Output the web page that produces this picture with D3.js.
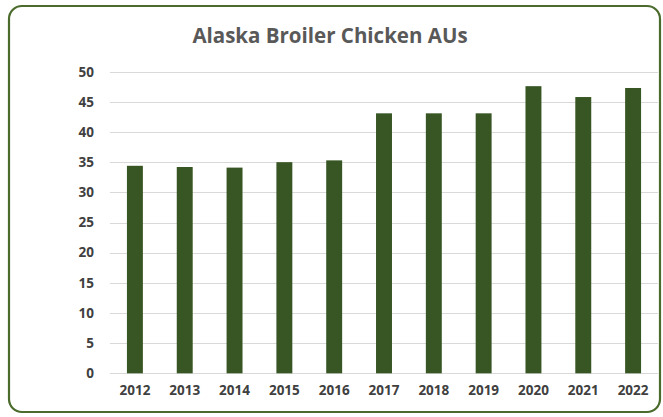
<!DOCTYPE html>
<html>
<head>
<meta charset="utf-8">
<script src="https://cdn.jsdelivr.net/npm/d3@7"></script>
<style>
  body { margin: 0; background: #fff; }
  text { font-family: "Open Sans", "Noto Sans", sans-serif; }
</style>
</head>
<body>
<div id="chart"></div>
<script>
const years = ["2012", "2013", "2014", "2015", "2016", "2017", "2018", "2019", "2020", "2021", "2022"];
const aus = [34.4, 34.2, 34.1, 35.0, 35.3, 43.1, 43.1, 43.1, 47.6, 45.8, 47.3];
const yTicks = [0, 5, 10, 15, 20, 25, 30, 35, 40, 45, 50];

// svg dimensions
const w = 663;
const h = 417;

const svg = d3
  .select("#chart")
  .append("svg")
  .attr("width", w)
  .attr("height", h);

// outer frame
svg
  .append("rect")
  .attr("x", 9)
  .attr("y", 6)
  .attr("width", 651)
  .attr("height", 406)
  .attr("rx", 13)
  .attr("fill", "#fff")
  .attr("stroke", "#4a6b2c")
  .attr("stroke-width", 2.2);

// scales
const xScale = d3
  .scaleBand()
  .domain(years)
  .range([110, 658])
  .paddingInner(0.68)
  .paddingOuter(0.34);

const yScale = d3.scaleLinear().domain([0, 50]).range([373.3, 71.7]);

// gridlines
svg
  .append("g")
  .selectAll("line")
  .data(yTicks)
  .enter()
  .append("line")
  .attr("x1", 110)
  .attr("x2", 658)
  .attr("y1", (d) => Math.round(yScale(d)) + 0.5)
  .attr("y2", (d) => Math.round(yScale(d)) + 0.5)
  .attr("stroke", "#d9d9d9")
  .attr("stroke-width", 1);

// bars
svg
  .append("g")
  .selectAll("rect")
  .data(aus)
  .enter()
  .append("rect")
  .attr("x", (d, i) => xScale(years[i]))
  .attr("y", (d) => yScale(d))
  .attr("width", xScale.bandwidth())
  .attr("height", (d) => yScale(0) - yScale(d))
  .attr("fill", "#375623");

// axes
const yAxis = d3.axisLeft(yScale).tickValues(yTicks).tickSize(0).tickPadding(16);
const xAxis = d3.axisBottom(xScale).tickSize(0).tickPadding(12);

const gy = svg.append("g").attr("transform", "translate(110,0)").call(yAxis);
const gx = svg.append("g").attr("transform", `translate(0,${yScale(0)})`).call(xAxis);

[gx, gy].forEach((g) => {
  g.select(".domain").remove();
  g.selectAll("text")
    .attr("fill", "#404040")
    .style("font-size", "13.5px")
    .style("font-weight", "bold")
    .style("font-family", '"Open Sans", sans-serif');
});

// title
svg
  .append("text")
  .attr("x", 330)
  .attr("y", 43)
  .attr("text-anchor", "middle")
  .attr("fill", "#595959")
  .style("font-size", "20.5px")
  .style("font-weight", "bold")
  .text("Alaska Broiler Chicken AUs");
</script>
</body>
</html>
